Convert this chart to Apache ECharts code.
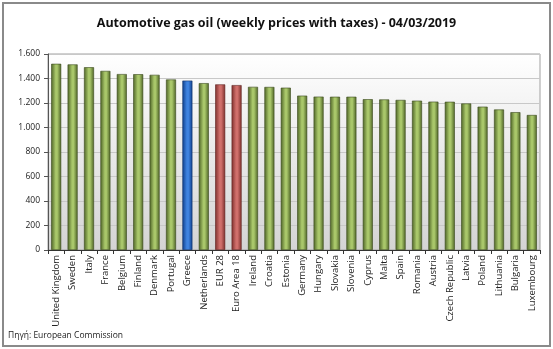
<!DOCTYPE html>
<html><head><meta charset="utf-8">
<script src="https://cdn.jsdelivr.net/npm/echarts@6/dist/echarts.min.js"></script>
<style>html,body{margin:0;padding:0;background:#fff}#c{width:553px;height:349px}</style>
</head><body><div id="c"></div>
<script>
const categories = ["United Kingdom","Sweden","Italy","France","Belgium","Finland","Denmark","Portugal","Greece","Netherlands","EUR 28","Euro Area 18","Ireland","Croatia","Estonia","Germany","Hungary","Slovakia","Slovenia","Cyprus","Malta","Spain","Romania","Austria","Czech Republic","Latvia","Poland","Lithuania","Bulgaria","Luxembourg"];
const prices = [1520,1515,1492,1462,1436,1435,1430,1392,1383,1362,1352,1346,1332,1331,1325,1260,1252,1251,1251,1231,1229,1225,1219,1211,1210,1196,1170,1147,1125,1102];
const blueCats = ["Greece"];
const redCats = ["EUR 28","Euro Area 18"];
const yTicks = [0,200,400,600,800,1000,1200,1400,1600];

function grad(dark, light){
  return new echarts.graphic.LinearGradient(0,0,1,0,[
    {offset:0,color:dark},{offset:0.45,color:light},{offset:0.6,color:light},{offset:1,color:dark}]);
}
const greenG = grad('#4d6326','#a9c76a');
const blueG = grad('#0f3f8c','#3f83e0');
const redG = grad('#7d2f2c','#d06f6b');

const chart = echarts.init(document.getElementById('c'));
chart.setOption({
  animation:false,
  title:{text:'Automotive gas oil (weekly prices with taxes) - 04/03/2019',left:'center',top:12,
    textStyle:{fontFamily:'Open Sans',fontWeight:'bold',fontSize:12.5,color:'#111'}},
  graphic:[
    {type:'rect',shape:{x:3,y:3,width:547,height:343},style:{fill:'none',stroke:'#8a8a8a',lineWidth:2},z:-1},
    {type:'text',left:8,top:331,style:{text:'Πηγή: European Commission',fontFamily:'Open Sans',fontSize:8.5,fill:'#222'}}
  ],
  grid:{left:48,right:13,top:54,bottom:99,show:true,borderColor:'#a0a0a0',borderWidth:1,
    backgroundColor:new echarts.graphic.LinearGradient(0,0,0,1,[{offset:0,color:'#ffffff'},{offset:1,color:'#d4d4d4'}])},
  xAxis:{type:'category',data:categories,
    axisLine:{lineStyle:{color:'#333'}},
    axisTick:{show:true,length:4,lineStyle:{color:'#333'}},
    axisLabel:{rotate:90,interval:0,fontFamily:'Open Sans',fontSize:9.5,color:'#222',margin:5}},
  yAxis:{type:'value',min:0,max:1600,interval:200,
    axisLine:{show:true,lineStyle:{color:'#555'}},
    axisTick:{show:true,length:4,lineStyle:{color:'#555'}},
    splitLine:{lineStyle:{color:'#c8c8c8',width:1}},
    axisLabel:{fontFamily:'Open Sans',fontSize:8.5,color:'#222',margin:8,
      formatter:v=>yTicks.includes(v)?String(v).replace(/\B(?=(\d{3})+(?!\d))/g,'.'):''}},
  series:[{type:'bar',barWidth:10,
    data:prices.map((v,i)=>({value:v,itemStyle:{color:blueCats.includes(categories[i])?blueG:(redCats.includes(categories[i])?redG:greenG),
      borderColor:blueCats.includes(categories[i])?'#0d2f66':(redCats.includes(categories[i])?'#5e2220':'#3a4a1c'),borderWidth:0.6}}))}]
});
</script></body></html>
